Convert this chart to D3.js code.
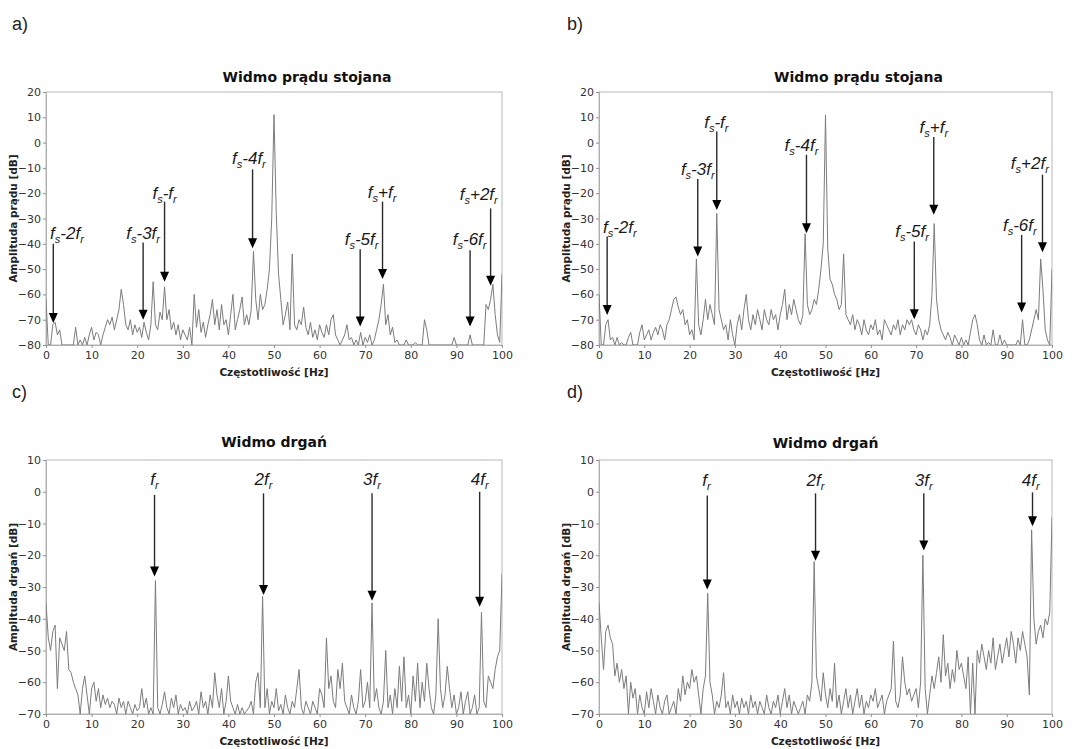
<!DOCTYPE html>
<html>
<head>
<meta charset="utf-8">
<script src="https://cdn.jsdelivr.net/npm/d3@7"></script>
<style>
  body { margin: 0; background: #fff; }
  svg { display: block; }
</style>
</head>
<body>
<div id="chart"></div>
<script>
// Spectra sampled every 0.5 Hz from 0 to 100 Hz (201 points each), values in dB
const freqStep = 0.5;
const xTicks = [0, 10, 20, 30, 40, 50, 60, 70, 80, 90, 100];
const yTicksCurrent = [20, 10, 0, -10, -20, -30, -40, -50, -60, -70, -80];
const yTicksVib = [10, 0, -10, -20, -30, -40, -50, -60, -70];

// a) stator current spectrum
const ampA = [
  -62,-80,-80,-72,-71,-76,-74,-80,-80,-80,-80,-80,-80,-73,-80,-78,-80,-77,-80,-76,
  -73,-78,-75,-76,-80,-76,-73,-70,-72,-69,-74,-70,-66,-58,-64,-72,-74,-70,-76,-72,
  -75,-73,-77,-71,-75,-78,-72,-55,-72,-74,-67,-70,-57,-70,-66,-74,-71,-76,-72,-78,
  -74,-76,-78,-73,-80,-60,-73,-66,-75,-71,-77,-72,-68,-62,-72,-66,-74,-64,-72,-70,
  -76,-68,-60,-74,-70,-66,-61,-72,-68,-72,-66,-43,-62,-70,-60,-66,-64,-58,-50,-30,
  11,-28,-52,-62,-72,-68,-63,-74,-44,-72,-74,-70,-72,-65,-73,-76,-71,-77,-74,-78,
  -72,-75,-77,-72,-76,-70,-68,-76,-78,-80,-78,-76,-72,-78,-77,-80,-78,-80,-75,-80,
  -77,-79,-76,-80,-78,-74,-70,-64,-56,-72,-68,-76,-73,-79,-78,-80,-80,-80,-78,-80,
  -80,-80,-79,-80,-80,-80,-70,-74,-80,-80,-80,-80,-80,-80,-80,-80,-80,-80,-80,-77,
  -80,-80,-80,-80,-80,-80,-76,-80,-80,-80,-80,-80,-80,-64,-66,-62,-56,-68,-76,-79,
  -52
];

// b) stator current spectrum
const ampB = [
  -60,-80,-80,-72,-70,-78,-77,-80,-77,-80,-79,-80,-80,-77,-75,-80,-80,-80,-75,-72,
  -78,-76,-74,-78,-75,-73,-76,-72,-74,-78,-72,-70,-66,-62,-61,-65,-68,-66,-72,-70,
  -76,-74,-78,-46,-72,-76,-70,-62,-70,-64,-68,-72,-28,-66,-70,-74,-72,-78,-70,-76,
  -80,-72,-68,-74,-66,-60,-70,-74,-68,-72,-66,-70,-74,-66,-70,-72,-66,-70,-68,-74,
  -68,-64,-58,-70,-64,-68,-62,-66,-70,-72,-68,-36,-64,-68,-66,-62,-64,-58,-50,-40,
  11,-42,-54,-56,-60,-62,-66,-64,-44,-68,-70,-72,-68,-74,-70,-72,-76,-70,-74,-76,
  -72,-74,-70,-76,-74,-78,-70,-72,-74,-76,-72,-74,-70,-76,-72,-74,-70,-72,-70,-74,
  -76,-72,-74,-78,-74,-76,-72,-60,-32,-62,-70,-74,-76,-78,-75,-77,-80,-76,-78,-80,
  -77,-80,-78,-80,-75,-70,-68,-72,-78,-80,-76,-80,-79,-80,-74,-80,-80,-76,-80,-78,
  -80,-80,-80,-80,-80,-78,-80,-70,-80,-80,-78,-74,-70,-66,-70,-46,-58,-74,-78,-80,
  -50
];

// c) vibration spectrum
const ampC = [
  -35,-46,-50,-44,-42,-62,-46,-48,-50,-44,-56,-57,-60,-62,-64,-70,-62,-58,-64,-70,
  -62,-60,-66,-62,-68,-64,-67,-65,-68,-66,-67,-70,-65,-68,-66,-70,-66,-68,-70,-67,
  -69,-68,-62,-68,-65,-70,-68,-70,-28,-68,-70,-67,-63,-68,-70,-65,-68,-64,-70,-67,
  -69,-68,-70,-66,-69,-68,-66,-70,-63,-68,-66,-70,-64,-68,-57,-64,-68,-62,-70,-66,
  -58,-66,-68,-70,-67,-70,-68,-70,-69,-68,-66,-70,-60,-57,-68,-33,-68,-62,-70,-66,
  -68,-62,-69,-67,-70,-64,-68,-70,-66,-68,-62,-56,-68,-70,-66,-68,-70,-66,-68,-70,
  -62,-64,-68,-46,-62,-58,-66,-68,-56,-62,-54,-66,-68,-70,-64,-68,-70,-66,-56,-68,
  -66,-60,-68,-35,-66,-62,-68,-70,-66,-50,-68,-64,-70,-62,-68,-55,-66,-52,-68,-64,
  -70,-58,-66,-54,-68,-60,-66,-54,-62,-68,-70,-64,-40,-62,-68,-64,-55,-62,-68,-64,
  -70,-68,-63,-70,-66,-63,-70,-68,-64,-70,-68,-38,-66,-68,-58,-60,-62,-56,-52,-50,
  -26
];

// d) vibration spectrum
const ampD = [
  -35,-46,-56,-44,-42,-46,-48,-58,-54,-60,-56,-62,-58,-70,-60,-65,-62,-70,-64,-68,
  -70,-63,-68,-62,-66,-70,-64,-68,-70,-66,-64,-70,-68,-66,-70,-62,-66,-58,-64,-60,
  -62,-56,-60,-58,-64,-70,-62,-58,-32,-60,-64,-70,-66,-68,-64,-57,-68,-66,-70,-64,
  -68,-66,-70,-65,-68,-66,-70,-64,-68,-66,-70,-66,-68,-70,-64,-68,-70,-66,-68,-64,
  -70,-66,-62,-68,-64,-70,-66,-68,-70,-68,-66,-70,-64,-66,-60,-22,-58,-62,-66,-57,
  -64,-68,-62,-66,-54,-68,-64,-70,-66,-62,-68,-64,-70,-66,-62,-68,-64,-70,-66,-68,
  -64,-66,-62,-68,-66,-64,-70,-66,-64,-62,-47,-66,-68,-64,-52,-60,-64,-62,-66,-64,
  -62,-68,-60,-20,-62,-70,-64,-58,-62,-57,-52,-60,-45,-58,-54,-62,-56,-60,-50,-56,
  -54,-58,-62,-52,-70,-54,-70,-50,-54,-48,-52,-56,-50,-54,-46,-56,-52,-48,-54,-50,
  -46,-52,-44,-48,-54,-46,-50,-44,-48,-52,-64,-12,-40,-48,-44,-42,-46,-40,-42,-38,
  -8
];

// annotations: label (underscore = subscript), arrow at f from top dB to tip dB, label centre (lf, ly)
const annA = [
  { label: 'f_s-2f_r', f: 1.6,  top: -40,   tip: -71.3, lf: 4.6,  ly: -35.7 },
  { label: 'f_s-3f_r', f: 21.3, top: -39.5, tip: -70,   lf: 21.3, ly: -35.7 },
  { label: 'f_s-f_r',  f: 26,   top: -23.3, tip: -55,   lf: 26,   ly: -20 },
  { label: 'f_s-4f_r', f: 45.3, top: -10.6, tip: -41.8, lf: 44.5, ly: -6.2 },
  { label: 'f_s-5f_r', f: 68.9, top: -42.2, tip: -72.7, lf: 69.2, ly: -38.2 },
  { label: 'f_s+f_r',  f: 73.8, top: -23.3, tip: -53.9, lf: 73.7, ly: -19.4 },
  { label: 'f_s-6f_r', f: 93,   top: -42.5, tip: -72.7, lf: 92.9, ly: -38.2 },
  { label: 'f_s+2f_r', f: 97.5, top: -26,   tip: -56.6, lf: 94.9, ly: -20.4 }
];
const annB = [
  { label: 'f_s-2f_r', f: 1.8,  top: -37.1, tip: -68.1, lf: 4.6,  ly: -33.2 },
  { label: 'f_s-3f_r', f: 21.8, top: -14.4, tip: -45,   lf: 21.8, ly: -10.5 },
  { label: 'f_s-f_r',  f: 26,   top: 4.4,   tip: -26.6, lf: 25.9, ly: 8.1 },
  { label: 'f_s-4f_r', f: 45.8, top: -4.8,  tip: -35.8, lf: 44.7, ly: -1.1 },
  { label: 'f_s-5f_r', f: 69.6, top: -39.1, tip: -69.8, lf: 69.1, ly: -35.1 },
  { label: 'f_s+f_r',  f: 73.9, top: 2.2,   tip: -28.5, lf: 73.9, ly: 6.1 },
  { label: 'f_s-6f_r', f: 93.3, top: -36.5, tip: -67.2, lf: 92.9, ly: -32.5 },
  { label: 'f_s+2f_r', f: 97.9, top: -12.7, tip: -43.3, lf: 95.1, ly: -8.1 }
];
const annC = [
  { label: 'f_r',  f: 23.8, top: -1,   tip: -26.7, lf: 23.8, ly: 3.9 },
  { label: '2f_r', f: 47.7, top: -0.5, tip: -32.5, lf: 47.7, ly: 3.9 },
  { label: '3f_r', f: 71.5, top: -0.5, tip: -34.3, lf: 71.5, ly: 3.9 },
  { label: '4f_r', f: 95.1, top: 0,    tip: -36.2, lf: 95.1, ly: 3.9 }
];
const annD = [
  { label: 'f_r',  f: 23.9, top: -1.2, tip: -30.8, lf: 23.7, ly: 3.8 },
  { label: '2f_r', f: 47.8, top: -0.5, tip: -21.7, lf: 47.8, ly: 3.8 },
  { label: '3f_r', f: 71.7, top: -0.5, tip: -18.5, lf: 71.7, ly: 3.8 },
  { label: '4f_r', f: 95.7, top: -0.2, tip: -10.9, lf: 95.3, ly: 3.8 }
];

const panels = [
  { tag: 'a)', values: ampA, ann: annA, yTicks: yTicksCurrent, title: 'Widmo prądu stojana', yLabel: 'Amplituda prądu [dB]',
    left: 46, right: 502, top: 92, bottom: 345, titleShift: 33, tagX: 12, tagY: 30, titleY: 82 },
  { tag: 'b)', values: ampB, ann: annB, yTicks: yTicksCurrent, title: 'Widmo prądu stojana', yLabel: 'Amplituda prądu [dB]',
    left: 599, right: 1052, top: 92, bottom: 345, titleShift: 33, tagX: 567, tagY: 30, titleY: 82 },
  { tag: 'c)', values: ampC, ann: annC, yTicks: yTicksVib, title: 'Widmo drgań', yLabel: 'Amplituda drgań [dB]',
    left: 46, right: 502, top: 460, bottom: 714, titleShift: 0, tagX: 12, tagY: 398, titleY: 447 },
  { tag: 'd)', values: ampD, ann: annD, yTicks: yTicksVib, title: 'Widmo drgań', yLabel: 'Amplituda drgań [dB]',
    left: 599, right: 1052, top: 460, bottom: 714, titleShift: 0, tagX: 567, tagY: 398, titleY: 448 }
];

const svg = d3.select('#chart')
  .append('svg')
  .attr('width', 1083)
  .attr('height', 749);

const axisFont = 'DejaVu Sans, Verdana, sans-serif';
const annFont = 'Liberation Sans, Arial, sans-serif';

panels.forEach((p, idx) => {
  const x = d3.scaleLinear().domain([0, 100]).range([p.left, p.right]);
  const y = d3.scaleLinear().domain([d3.min(p.yTicks), d3.max(p.yTicks)]).range([p.bottom, p.top]);
  const g = svg.append('g');

  // panel tag
  g.append('text')
    .attr('x', p.tagX).attr('y', p.tagY)
    .style('font-family', annFont).style('font-size', '18px').style('fill', '#222')
    .text(p.tag);

  // title
  g.append('text')
    .attr('x', (p.left + p.right) / 2 + p.titleShift).attr('y', p.titleY)
    .attr('text-anchor', 'middle')
    .style('font-family', axisFont).style('font-size', '14px').style('font-weight', 'bold').style('fill', '#111')
    .text(p.title);

  // frame
  g.append('rect')
    .attr('x', p.left).attr('y', p.top)
    .attr('width', p.right - p.left).attr('height', p.bottom - p.top)
    .style('fill', 'none').style('stroke', '#c4c4c4').style('stroke-width', 1.2);

  // axes
  const yAxis = g.append('g')
    .attr('transform', `translate(${p.left},0)`)
    .call(d3.axisLeft(y).tickValues(p.yTicks).tickSize(3).tickPadding(2).tickFormat(d3.format('d')));
  const xAxis = g.append('g')
    .attr('transform', `translate(0,${p.bottom})`)
    .call(d3.axisBottom(x).tickValues(xTicks).tickSize(3).tickPadding(3).tickFormat(d3.format('d')));
  [yAxis, xAxis].forEach(a => {
    a.select('.domain').style('stroke', '#b0b0b0');
    a.selectAll('.tick line').style('stroke', '#909090');
    a.selectAll('.tick text')
      .style('font-family', axisFont).style('font-size', '11px').style('fill', '#333');
  });

  // axis labels
  g.append('text')
    .attr('x', (p.left + p.right) / 2).attr('y', p.bottom + 31)
    .attr('text-anchor', 'middle')
    .style('font-family', axisFont).style('font-size', '10.5px').style('font-weight', 'bold').style('fill', '#222')
    .text('Częstotliwość [Hz]');
  g.append('text')
    .attr('transform', `translate(${p.left - 29},${(p.top + p.bottom) / 2}) rotate(-90)`)
    .attr('text-anchor', 'middle')
    .style('font-family', axisFont).style('font-size', '10.5px').style('font-weight', 'bold').style('fill', '#222')
    .text(p.yLabel);

  // spectrum line
  const clipId = 'clip' + idx;
  svg.append('clipPath').attr('id', clipId)
    .append('rect')
    .attr('x', p.left).attr('y', p.top - 1)
    .attr('width', p.right - p.left).attr('height', p.bottom - p.top + 1);

  const line = d3.line()
    .x((d, i) => x(i * freqStep))
    .y(d => y(d));

  g.append('path')
    .datum(p.values)
    .attr('clip-path', `url(#${clipId})`)
    .attr('d', line)
    .style('fill', 'none')
    .style('stroke', '#7c7c7c')
    .style('stroke-width', 1);

  // annotations
  const headLen = 10, headHalf = 4.5;
  p.ann.forEach(a => {
    const ax = x(a.f);
    const yTop = y(a.top), yTip = y(a.tip);
    g.append('line')
      .attr('x1', ax).attr('x2', ax)
      .attr('y1', yTop).attr('y2', yTip - headLen + 1)
      .style('stroke', '#2a2a2a').style('stroke-width', 1.4);
    g.append('path')
      .attr('d', `M${ax - headHalf},${yTip - headLen}L${ax + headHalf},${yTip - headLen}L${ax},${yTip}Z`)
      .style('fill', '#000');

    const t = g.append('text')
      .attr('x', x(a.lf)).attr('y', y(a.ly) + 6)
      .attr('text-anchor', 'middle')
      .style('font-family', annFont).style('font-style', 'italic').style('font-size', '17px').style('fill', '#1a1a1a');
    // split on "_x" → subscript x
    const parts = a.label.split(/_(.)/);
    let sub = false;
    parts.forEach((s, k) => {
      if (!s) return;
      const isSub = k % 2 === 1;
      const ts = t.append('tspan').text(s);
      if (isSub && !sub) { ts.attr('dy', 4).style('font-size', '11px'); sub = true; }
      else if (!isSub && sub) { ts.attr('dy', -4); sub = false; }
      else if (isSub) { ts.style('font-size', '11px'); }
    });
  });
});
</script>
</body>
</html>
